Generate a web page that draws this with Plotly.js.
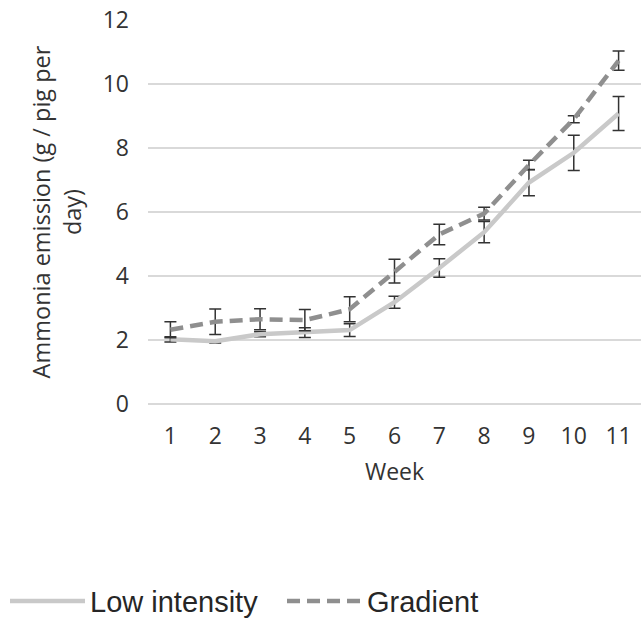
<!DOCTYPE html>
<html>
<head>
<meta charset="utf-8">
<script src="https://cdn.plot.ly/plotly-3.0.1.min.js"></script>
<style>html,body{margin:0;padding:0;background:#fff;}#chart{width:641px;height:619px;}</style>
</head>
<body>
<div id="chart"></div>
<script>
const weeks = [1, 2, 3, 4, 5, 6, 7, 8, 9, 10, 11];
const weekLabels = ['1','2','3','4','5','6','7','8','9','10','11'];
const lowIntensity = [2.02, 1.96, 2.18, 2.23, 2.31, 3.18, 4.25, 5.37, 6.92, 7.85, 9.08];
const lowIntensityErr = [0.08, 0.05, 0.08, 0.15, 0.2, 0.19, 0.29, 0.33, 0.41, 0.55, 0.53];
const gradient = [2.32, 2.57, 2.65, 2.62, 2.96, 4.15, 5.3, 5.95, 7.47, 8.9, 10.73];
const gradientErr = [0.25, 0.4, 0.33, 0.33, 0.39, 0.37, 0.32, 0.2, 0.15, 0.11, 0.3];
const yTicks = [0, 2, 4, 6, 8, 10, 12];

const errStyle = {type: 'data', visible: true, color: '#333333', thickness: 1.5, width: 6};

const traces = [
  {
    x: weeks, y: lowIntensity, name: 'Low intensity', type: 'scatter', mode: 'lines',
    line: {color: '#c9c9c9', width: 4.5}, legend: 'legend',
    error_y: Object.assign({array: lowIntensityErr}, errStyle)
  },
  {
    x: weeks, y: gradient, name: 'Gradient', type: 'scatter', mode: 'lines',
    line: {color: '#8f8f8f', width: 4.5, dash: '13px,7px'}, legend: 'legend2',
    error_y: Object.assign({array: gradientErr}, errStyle)
  }
];

const legendFont = {family: 'Liberation Sans, Arial, sans-serif', size: 29, color: '#262626'};
const legendBase = {
  orientation: 'h', xref: 'container', yref: 'container',
  y: 0.029, xanchor: 'left', yanchor: 'middle',
  font: legendFont, itemwidth: 75, bgcolor: 'rgba(0,0,0,0)'
};

const layout = {
  width: 641, height: 619,
  margin: {l: 148, r: 0, t: 20, b: 215},
  paper_bgcolor: '#ffffff', plot_bgcolor: '#ffffff',
  showlegend: true,
  font: {family: 'Open Sans, sans-serif', color: '#333333'},
  xaxis: {
    range: [0.5, 11.5], tickmode: 'array', tickvals: weeks, ticktext: weekLabels,
    showgrid: false, zeroline: false, showline: false, ticks: '',
    ticklabelstandoff: 16,
    tickfont: {family: 'Open Sans, sans-serif', size: 23, color: '#333333'},
    title: {text: 'Week', font: {family: 'Open Sans, sans-serif', size: 23, color: '#333333'}, standoff: 13},
    fixedrange: true
  },
  yaxis: {
    range: [0, 12], tickmode: 'array', tickvals: yTicks,
    showgrid: true, gridcolor: '#d9d9d9', gridwidth: 1.5,
    zeroline: true, zerolinecolor: '#d9d9d9', zerolinewidth: 1.5,
    showline: false, ticks: '',
    ticklabelstandoff: 18,
    tickfont: {family: 'Open Sans, sans-serif', size: 23, color: '#333333'},
    title: {text: 'Ammonia emission (g / pig per<br>day)', font: {family: 'Open Sans, sans-serif', size: 23.5, color: '#333333'}, standoff: 14},
    fixedrange: true
  },
  legend: Object.assign({}, legendBase, {x: 5 / 641}),
  legend2: Object.assign({}, legendBase, {x: 282 / 641})
};

Plotly.newPlot('chart', traces, layout, {displayModeBar: false, staticPlot: true});
</script>
</body>
</html>
